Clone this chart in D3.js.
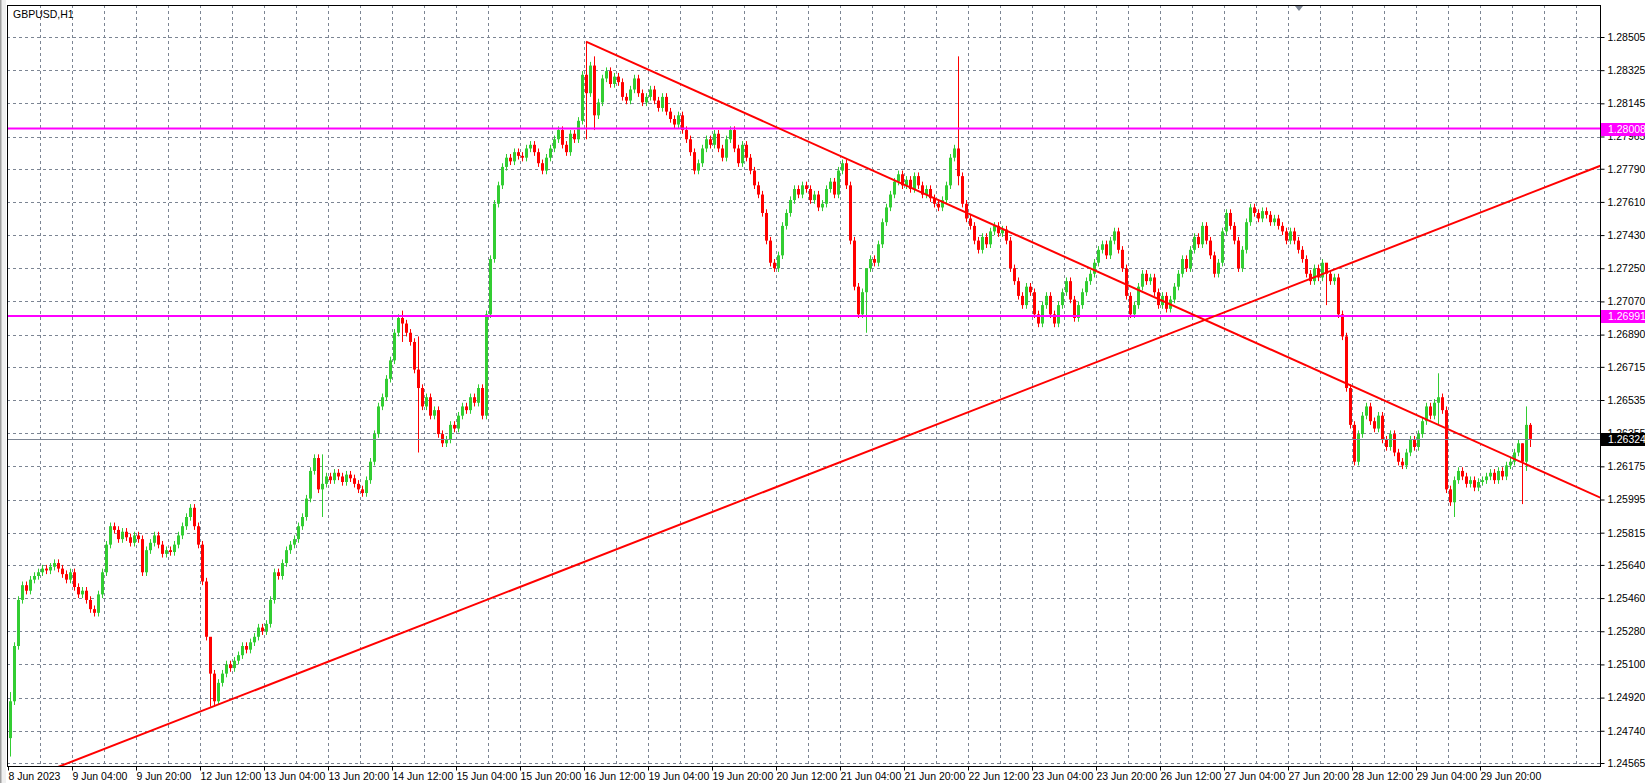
<!DOCTYPE html>
<html><head><meta charset="utf-8">
<script src="https://cdn.jsdelivr.net/npm/d3@7"></script>
<style>
body{margin:0;background:#fff;}
text{font-family:"Liberation Sans",Arial,sans-serif;}
</style></head>
<body><div id="chart"></div>
<script>
const W = 1645, H = 783

// hourly closes, in 1/10000 above 1.0 (2555 -> 1.2555), 16 bars per row
const closes = [
  2490,2520,2545,2553,2550,2556,2558,2560,2562,2561,2563,2565,2562,2559,2556,2560,
  2552,2548,2550,2545,2540,2538,2548,2560,2575,2585,2583,2578,2582,2579,2576,2580,
  2578,2560,2572,2576,2580,2575,2570,2572,2571,2575,2580,2585,2590,2595,2585,2575,
  2555,2525,2505,2490,2500,2505,2510,2508,2512,2515,2520,2518,2522,2525,2530,2528,
  2532,2545,2560,2558,2565,2572,2575,2578,2585,2590,2600,2615,2622,2605,2608,2612,
  2610,2614,2612,2609,2613,2611,2608,2605,2603,2610,2620,2635,2650,2655,2665,2675,
  2690,2698,2695,2690,2685,2670,2660,2650,2655,2645,2648,2635,2630,2632,2640,2638,
  2645,2650,2648,2655,2652,2660,2645,2700,2730,2760,2770,2780,2785,2783,2788,2786,
  2785,2790,2792,2788,2782,2778,2785,2790,2795,2800,2792,2788,2798,2795,2805,2830,
  2820,2835,2808,2815,2828,2832,2825,2829,2826,2818,2816,2822,2828,2820,2815,2818,
  2822,2816,2812,2818,2810,2806,2803,2808,2800,2795,2788,2778,2782,2790,2795,2792,
  2798,2790,2785,2795,2800,2790,2782,2792,2785,2778,2770,2765,2755,2740,2728,2725,
  2732,2748,2755,2762,2768,2765,2770,2768,2762,2765,2758,2760,2768,2772,2765,2778,
  2782,2770,2740,2715,2700,2712,2725,2730,2728,2738,2750,2758,2765,2772,2776,2770,
  2773,2768,2775,2770,2765,2768,2763,2760,2758,2762,2770,2785,2790,2775,2760,2752,
  2748,2740,2735,2742,2738,2745,2748,2744,2746,2740,2725,2718,2710,2705,2715,2712,
  2700,2695,2705,2710,2700,2695,2705,2712,2718,2708,2698,2705,2712,2718,2722,2728,
  2735,2738,2732,2740,2745,2735,2725,2710,2700,2705,2715,2722,2718,2720,2712,2705,
  2710,2703,2708,2715,2722,2730,2725,2735,2742,2738,2748,2740,2732,2722,2728,2745,
  2755,2748,2740,2725,2735,2750,2758,2755,2752,2756,2754,2750,2752,2748,2745,2740,
  2745,2740,2735,2730,2722,2718,2725,2720,2728,2722,2718,2720,2700,2688,2660,2640,
  2620,2635,2645,2650,2642,2638,2645,2632,2628,2635,2625,2620,2618,2625,2632,2628,
  2635,2642,2650,2645,2652,2655,2648,2605,2598,2610,2615,2612,2608,2610,2606,2609,
  2610,2612,2614,2610,2615,2612,2618,2620,2625,2630,2620,2640,2632.4
]
const firstOpen = 2470
// long wicks: [bar, high, low]
const wicks = [
  [0, 2495, 2460], [50, 2510, 2487], [78, 2624, 2590], [98, 2702, 2685],
  [102, 2688, 2625], [144, 2848, 2795], [146, 2840, 2800], [214, 2720, 2690],
  [237, 2840, 2770], [329, 2722, 2705], [357, 2668, 2640], [361, 2612, 2590],
  [378, 2630, 2597], [379, 2650, 2615], [380, 2641, 2628]
]

const priceTicks = [1.28505,1.28325,1.28145,1.27965,1.27790,1.27610,1.27430,1.27250,
  1.27070,1.26890,1.26715,1.26535,1.26355,1.26175,1.25995,1.25815,1.25640,1.25460,
  1.25280,1.25100,1.24920,1.24740,1.24565]
const timeLabels = ["8 Jun 2023","9 Jun 04:00","9 Jun 20:00","12 Jun 12:00","13 Jun 04:00",
  "13 Jun 20:00","14 Jun 12:00","15 Jun 04:00","15 Jun 20:00","16 Jun 12:00","19 Jun 04:00",
  "19 Jun 20:00","20 Jun 12:00","21 Jun 04:00","21 Jun 20:00","22 Jun 12:00","23 Jun 04:00",
  "23 Jun 20:00","26 Jun 12:00","27 Jun 04:00","27 Jun 20:00","28 Jun 12:00","29 Jun 04:00",
  "29 Jun 20:00"]

const levels = [1.28008, 1.26991]
const lastPrice = 1.26324
// trend lines: two anchor points [bar, price], and whether to extend left
const trends = [
  [[144, 1.2848], [336, 1.26606], false],
  [[50, 1.24865], [336, 1.27285], true]
]

const pL = 7, pR = 1600, pT = 5, pB = 766
const x = d3.scaleLinear().domain([0, 398]).range([10, 1602])
const y = d3.scaleLinear().domain([1.24565, 1.28505]).range([763, 37])

const svg = d3.select("#chart").append("svg").attr("width", W).attr("height", H)
svg.append("rect").attr("x", 0).attr("y", 0).attr("width", 6).attr("height", H).attr("fill", "#f0f0f0")
svg.append("rect").attr("x", 0).attr("y", 0).attr("width", 1.5).attr("height", H).attr("fill", "#a0a0a0")

// grid
const grid = svg.append("g").attr("stroke", "#7c8593").attr("stroke-dasharray", "3,3").attr("stroke-width", 1)
d3.range(8, 398, 8).forEach(b => {
  grid.append("line").attr("x1", x(b) - 1.5).attr("x2", x(b) - 1.5).attr("y1", pT).attr("y2", pB)
})
priceTicks.forEach(p => {
  grid.append("line").attr("x1", pL).attr("x2", pR).attr("y1", Math.round(y(p)) + 0.5).attr("y2", Math.round(y(p)) + 0.5)
})

// candles
const bars = closes.map((c, i) => {
  const o = i === 0 ? firstOpen : closes[i - 1]
  const w = wicks.find(d => d[0] === i)
  return {i, o: o / 1e4 + 1, c: c / 1e4 + 1,
    h: (w ? w[1] : Math.max(o, c) + 2) / 1e4 + 1,
    l: (w ? w[2] : Math.min(o, c) - 2) / 1e4 + 1}
})
const cg = svg.append("g")
cg.selectAll(".wick").data(bars).enter().append("line")
  .attr("x1", d => x(d.i) + 0.5).attr("x2", d => x(d.i) + 0.5)
  .attr("y1", d => y(d.h)).attr("y2", d => y(d.l))
  .attr("stroke", d => d.c >= d.o ? "#32cd32" : "#ff0000")
cg.selectAll(".body").data(bars).enter().append("rect")
  .attr("x", d => x(d.i) - 1).attr("width", 3)
  .attr("y", d => y(Math.max(d.o, d.c)))
  .attr("height", d => Math.max(1, Math.abs(y(d.o) - y(d.c))))
  .attr("fill", d => d.c >= d.o ? "#32cd32" : "#ff0000")

// horizontal levels
levels.forEach(p => {
  svg.append("line").attr("x1", pL).attr("x2", pR).attr("y1", y(p)).attr("y2", y(p))
    .attr("stroke", "#ff00ff").attr("stroke-width", 2)
})
svg.append("line").attr("x1", pL).attr("x2", pR).attr("y1", Math.round(y(lastPrice)) + 0.5).attr("y2", Math.round(y(lastPrice)) + 0.5)
  .attr("stroke", "#7c8593")

// trend lines, extended to the right border
svg.append("clipPath").attr("id", "plot").append("rect")
  .attr("x", pL).attr("y", pT).attr("width", pR - pL).attr("height", pB - pT)
const tg = svg.append("g").attr("clip-path", "url(#plot)")
trends.forEach(([a, b, extLeft]) => {
  const slope = (b[1] - a[1]) / (b[0] - a[0])
  const b0 = extLeft ? a[0] - 200 : a[0], b1 = 398
  tg.append("line")
    .attr("x1", x(b0)).attr("y1", y(a[1] + (b0 - a[0]) * slope))
    .attr("x2", x(b1)).attr("y2", y(a[1] + (b1 - a[0]) * slope))
    .attr("stroke", "#ff0000").attr("stroke-width", 2)
})

// frame
svg.append("rect").attr("x", pL + 0.5).attr("y", pT + 0.5).attr("width", pR - pL).attr("height", pB - pT)
  .attr("fill", "none").attr("stroke", "#000")

// axes
const yAxis = svg.append("g").attr("transform", `translate(${pR + 0.5},0)`)
  .call(d3.axisRight(y).tickValues(priceTicks).tickFormat(d3.format(".5f")).tickSize(4).tickPadding(3))
yAxis.select(".domain").remove()
yAxis.selectAll("text").attr("font-size", 10.5).attr("fill", "#000")
const xAxis = svg.append("g").attr("transform", `translate(0,${pB + 0.5})`)
  .call(d3.axisBottom(x).tickValues(d3.range(0, 369, 16)).tickFormat((d, i) => timeLabels[i]).tickSize(4).tickPadding(2))
xAxis.select(".domain").remove()
xAxis.selectAll("text").attr("text-anchor", "start").attr("dx", 0).attr("font-size", 10.5).attr("fill", "#000")
xAxis.selectAll(".tick").attr("transform", d => `translate(${x(d) - 1.5},0)`)

// price labels on axis
const tag = (p, fill) => {
  const g = svg.append("g").attr("transform", `translate(${pR + 1},${Math.round(y(p))})`)
  g.append("rect").attr("x", 0).attr("y", -6).attr("width", W - pR - 1).attr("height", 13).attr("fill", fill)
  g.append("text").attr("x", 7).attr("y", 4).attr("font-size", 10.5).attr("fill", "#fff").text(p.toFixed(5))
}
levels.forEach(p => tag(p, "#ff00ff"))
tag(lastPrice, "#000")

svg.append("text").attr("x", 13).attr("y", 18).attr("font-size", 10.5).text("GBPUSD,H1")
svg.append("path").attr("d", "M1295,6 l4,5 l4,-5 z").attr("fill", "#7c8593")
</script></body></html>
